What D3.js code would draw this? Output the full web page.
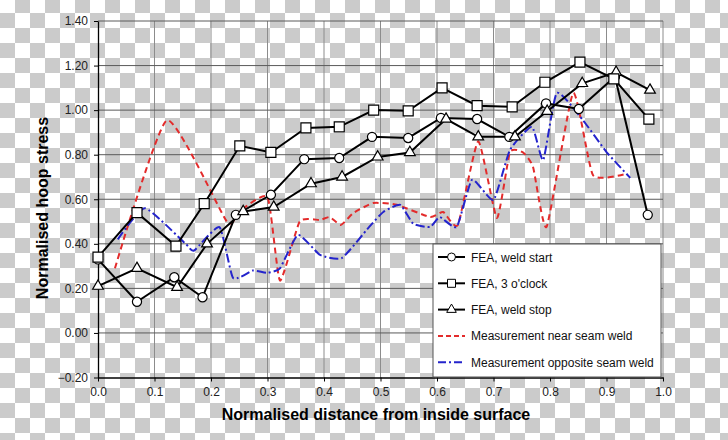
<!DOCTYPE html>
<html>
<head>
<meta charset="utf-8">
<script src="https://cdn.jsdelivr.net/npm/d3@7"></script>
<style>
  body { margin: 0; }
  svg { display: block; font-family: "Liberation Sans", Arial, sans-serif; }
</style>
</head>
<body>
<svg id="chart" width="728" height="440"></svg>
<script>
(function () {
    const width = 728, height = 440

    // FEA series (x = normalised distance, y = normalised hoop stress)
    const weldStartX = [0.0, 0.069, 0.135, 0.185, 0.244, 0.306, 0.365, 0.427, 0.485, 0.549, 0.607, 0.671, 0.728, 0.793, 0.851, 0.915, 0.973]
    const weldStartY = [0.33, 0.14, 0.25, 0.16, 0.53, 0.62, 0.78, 0.785, 0.88, 0.875, 0.965, 0.96, 0.88, 1.03, 1.005, 1.15, 0.53]

    const threeOclockX = [0.0, 0.069, 0.138, 0.188, 0.251, 0.306, 0.368, 0.427, 0.488, 0.549, 0.609, 0.671, 0.733, 0.791, 0.853, 0.913, 0.975]
    const threeOclockY = [0.34, 0.54, 0.39, 0.58, 0.84, 0.81, 0.92, 0.925, 1.0, 0.997, 1.10, 1.02, 1.015, 1.125, 1.215, 1.14, 0.96]

    const weldStopX = [0.0, 0.069, 0.14, 0.193, 0.257, 0.311, 0.377, 0.432, 0.495, 0.552, 0.616, 0.673, 0.738, 0.795, 0.857, 0.917, 0.977]
    const weldStopY = [0.21, 0.29, 0.205, 0.40, 0.545, 0.565, 0.67, 0.70, 0.79, 0.81, 0.96, 0.88, 0.88, 0.995, 1.12, 1.17, 1.09]

    // measurements
    const nearSeamX = [0.03, 0.122, 0.228, 0.25, 0.30, 0.322, 0.357, 0.393, 0.41, 0.43, 0.452, 0.487, 0.529, 0.588, 0.611, 0.637, 0.673, 0.706, 0.729, 0.752, 0.77, 0.794, 0.841, 0.876, 0.933]
    const nearSeamY = [0.29, 0.955, 0.50, 0.545, 0.61, 0.235, 0.50, 0.507, 0.52, 0.485, 0.538, 0.583, 0.575, 0.52, 0.543, 0.485, 0.86, 0.516, 0.81, 0.81, 0.745, 0.476, 1.077, 0.709, 0.713]

    const oppSeamX = [0.035, 0.083, 0.155, 0.17, 0.215, 0.239, 0.274, 0.299, 0.322, 0.354, 0.393, 0.432, 0.48, 0.505, 0.535, 0.558, 0.588, 0.605, 0.635, 0.662, 0.70, 0.729, 0.768, 0.788, 0.812, 0.858, 0.90, 0.942]
    const oppSeamY = [0.42, 0.56, 0.40, 0.37, 0.475, 0.247, 0.28, 0.27, 0.29, 0.44, 0.35, 0.337, 0.476, 0.543, 0.575, 0.49, 0.476, 0.52, 0.476, 0.687, 0.597, 0.82, 0.925, 0.776, 1.077, 0.956, 0.812, 0.696]

    const xTicks = [0, 0.1, 0.2, 0.3, 0.4, 0.5, 0.6, 0.7, 0.8, 0.9, 1.0]
    const yTicks = [-0.2, 0, 0.2, 0.4, 0.6, 0.8, 1.0, 1.2, 1.4]

    const legendLabels = ["FEA, weld start", "FEA, 3 o'clock", "FEA, weld stop",
        "Measurement near seam weld", "Measurement opposite seam weld"]

    const zip = (xs, ys) => xs.map((x, i) => [x, ys[i]])

    const svg = d3.select("#chart")

    // checkerboard backdrop
    const defs = svg.append("defs")
    const pat = defs.append("pattern")
        .attr("id", "checker")
        .attr("patternUnits", "userSpaceOnUse")
        .attr("width", 30).attr("height", 30)
        .attr("y", -2)
    pat.append("rect").attr("width", 30).attr("height", 30).attr("fill", "#ffffff")
    pat.append("rect").attr("x", 15).attr("y", 0).attr("width", 15).attr("height", 15).attr("fill", "#cbcbcb")
    pat.append("rect").attr("x", 0).attr("y", 15).attr("width", 15).attr("height", 15).attr("fill", "#cbcbcb")
    svg.append("rect").attr("width", width).attr("height", height).attr("fill", "url(#checker)")

    const x = d3.scaleLinear().domain([0, 1]).range([98, 663])
    const y = d3.scaleLinear().domain([-0.2, 1.4]).range([377.5, 21])

    // gridlines
    svg.append("g").selectAll("line")
        .data(xTicks.slice(1))
        .enter().append("line")
        .attr("x1", d => x(d)).attr("x2", d => x(d))
        .attr("y1", y(1.4)).attr("y2", y(-0.2))
        .attr("stroke", "#8c8c8c").attr("stroke-width", 1)
    svg.append("g").selectAll("line")
        .data(yTicks.slice(1))
        .enter().append("line")
        .attr("x1", x(0)).attr("x2", x(1))
        .attr("y1", d => y(d)).attr("y2", d => y(d))
        .attr("stroke", "#5a5a5a").attr("stroke-width", 1)

    // axes
    const xAxis = svg.append("g")
        .attr("transform", `translate(0,${y(-0.2)})`)
        .call(d3.axisBottom(x).tickValues(xTicks).tickFormat(d3.format(".1f")).tickSizeInner(4).tickSizeOuter(0).tickPadding(6))
    const yAxis = svg.append("g")
        .attr("transform", `translate(${x(0)},0)`)
        .call(d3.axisLeft(y).tickValues(yTicks).tickFormat(d3.format(".2f")).tickSizeInner(4).tickSizeOuter(0).tickPadding(6))
    ;[xAxis, yAxis].forEach(a => {
        a.select(".domain").attr("stroke", "#000").attr("stroke-width", 1.3)
        a.selectAll(".tick line").attr("stroke", "#000")
        a.selectAll("text").attr("font-size", 12).attr("fill", "#222")
            .attr("font-family", "'Liberation Sans', Arial, sans-serif")
    })

    // measurement curves (lightly smoothed)
    const line = d3.line()
        .x(d => x(d[0])).y(d => y(d[1]))
        .curve(d3.curveCardinal.tension(0.5))

    svg.append("path")
        .datum(zip(nearSeamX, nearSeamY))
        .attr("d", line)
        .attr("fill", "none").attr("stroke", "#e32b2b").attr("stroke-width", 2)
        .attr("stroke-dasharray", "6,4")
    svg.append("path")
        .datum(zip(oppSeamX, oppSeamY))
        .attr("d", line)
        .attr("fill", "none").attr("stroke", "#2424cc").attr("stroke-width", 2)
        .attr("stroke-dasharray", "9,3,2,3")

    // FEA series
    const straight = d3.line().x(d => x(d[0])).y(d => y(d[1]))
    const fea = [
        { pts: zip(weldStartX, weldStartY), sym: d3.symbolCircle, size: 66 },
        { pts: zip(weldStopX, weldStopY), sym: d3.symbolTriangle, size: 50 },
        { pts: zip(threeOclockX, threeOclockY), sym: d3.symbolSquare, size: 100 }
    ]
    fea.forEach(s => {
        svg.append("path")
            .datum(s.pts)
            .attr("d", straight)
            .attr("fill", "none").attr("stroke", "#000").attr("stroke-width", 2)
    })
    fea.forEach(s => {
        svg.append("g").selectAll("path")
            .data(s.pts)
            .enter().append("path")
            .attr("transform", d => `translate(${x(d[0])},${y(d[1])})`)
            .attr("d", d3.symbol().type(s.sym).size(s.size))
            .attr("fill", "#fff").attr("stroke", "#000").attr("stroke-width", 1.2)
    })

    // legend
    const lg = svg.append("g")
    lg.append("rect")
        .attr("x", 433).attr("y", 244).attr("width", 228).attr("height", 133)
        .attr("fill", "#fff").attr("stroke", "#555").attr("stroke-width", 1)
    const legendStyle = [
        { stroke: "#000", dash: null, sym: d3.symbolCircle, size: 50 },
        { stroke: "#000", dash: null, sym: d3.symbolSquare, size: 64 },
        { stroke: "#000", dash: null, sym: d3.symbolTriangle, size: 40 },
        { stroke: "#e32b2b", dash: "5,3", sym: null },
        { stroke: "#2424cc", dash: "8,3,2,3", sym: null }
    ]
    legendLabels.forEach((label, i) => {
        const ly = 257 + i * 26.3
        const st = legendStyle[i]
        lg.append("line")
            .attr("x1", 438).attr("x2", 465).attr("y1", ly).attr("y2", ly)
            .attr("stroke", st.stroke).attr("stroke-width", 2)
            .attr("stroke-dasharray", st.dash)
        if (st.sym) {
            lg.append("path")
                .attr("transform", `translate(451.5,${ly})`)
                .attr("d", d3.symbol().type(st.sym).size(st.size))
                .attr("fill", "#fff").attr("stroke", "#000").attr("stroke-width", 1)
        }
        lg.append("text")
            .attr("x", 471).attr("y", ly + 4.5)
            .attr("font-size", 12).attr("fill", "#111")
            .text(label)
    })

    // axis titles
    svg.append("text")
        .attr("x", 376).attr("y", 420)
        .attr("text-anchor", "middle")
        .attr("font-size", 16).attr("font-weight", "bold")
        .text("Normalised distance from inside surface")
    svg.append("text")
        .attr("transform", "translate(48,208) rotate(-90)")
        .attr("text-anchor", "middle")
        .attr("font-size", 16).attr("font-weight", "bold")
        .text("Normalised hoop stress")
})();
</script>
</body>
</html>
